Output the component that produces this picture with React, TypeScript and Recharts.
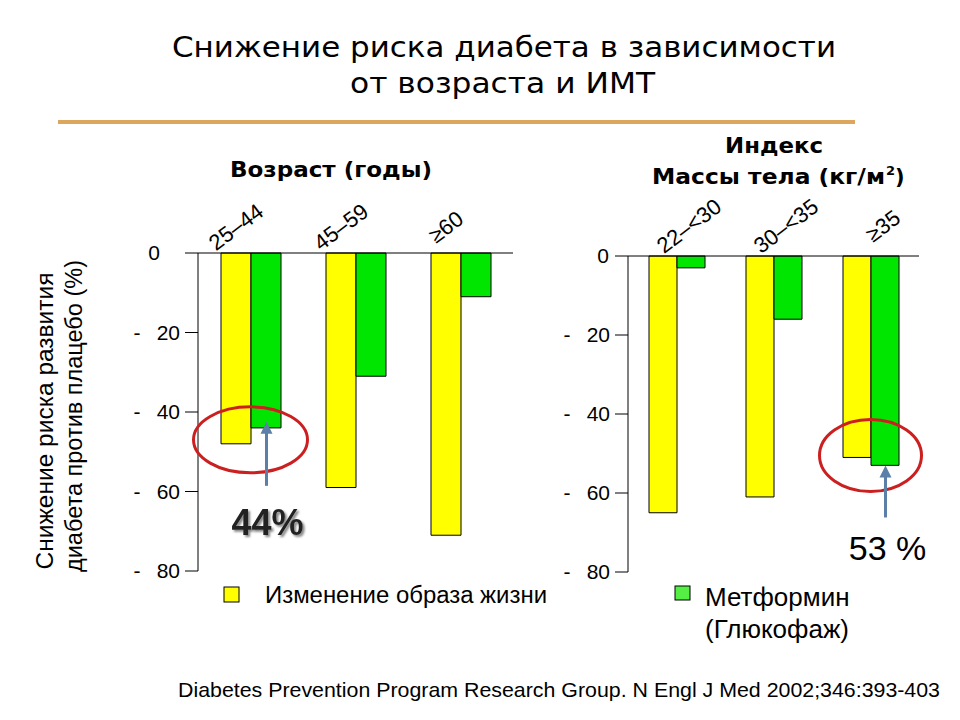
import { BarChart, Bar, XAxis, YAxis, ReferenceDot } from "recharts";

// ─── Data ────────────────────────────────────────────────────────────────────

const AGE_GROUPS = ["25–44", "45–59", "≥60"];
const AGE_LIFESTYLE = [-48, -59, -71];
const AGE_METFORMIN = [-44, -31, -11];

const BMI_GROUPS = ["22–<30", "30–<35", "≥35"];
const BMI_LIFESTYLE = [-65, -61, -51];
const BMI_METFORMIN = [-3, -16, -53];

const Y_TICKS = [0, -20, -40, -60, -80];

const ageData = AGE_GROUPS.map((name, i) => ({
  name,
  lifestyle: AGE_LIFESTYLE[i],
  metformin: AGE_METFORMIN[i],
}));

const bmiData = BMI_GROUPS.map((name, i) => ({
  name,
  lifestyle: BMI_LIFESTYLE[i],
  metformin: BMI_METFORMIN[i],
}));

// ─── Styles ──────────────────────────────────────────────────────────────────

const YELLOW = "#ffff00";
const GREEN = "#00e600";
const LEGEND_GREEN = "#55ee44";
const RED = "#cc2020";
const ARROW = "#5b7fa6";
const ORANGE = "#dca65f";
const ARIAL = "'Liberation Sans', Arial, sans-serif";
const DEJAVU = "'DejaVu Sans', Verdana, sans-serif";

// ─── Ticks ───────────────────────────────────────────────────────────────────

function makeYTick(zeroShift: number) {
  return function YTick(props: any) {
    const { x, y, payload } = props;
    const v = payload.value as number;
    if (v === 0) {
      return (
        <text x={x - 4 + zeroShift} y={y} dy={7} textAnchor="end" fontSize={21} fontFamily={ARIAL} fill="#000">
          0
        </text>
      );
    }
    return (
      <g>
        <text x={x - 46} y={y} dy={7} textAnchor="middle" fontSize={21} fontFamily={ARIAL} fill="#000">
          -
        </text>
        <text x={x - 3} y={y} dy={7} textAnchor="end" fontSize={21} fontFamily={ARIAL} fill="#000">
          {Math.abs(v)}
        </text>
      </g>
    );
  };
}

function makeXTick(dx: number, dy: number) {
  return function XTick(props: any) {
    const { x, y, payload } = props;
    const tx = x + dx;
    const ty = y + dy;
    return (
      <text
        x={tx}
        y={ty}
        textAnchor="middle"
        fontSize={22}
        fontFamily={ARIAL}
        fill="#000"
        transform={`rotate(-37, ${tx}, ${ty})`}
      >
        {payload.value}
      </text>
    );
  };
}

// ─── Annotations ─────────────────────────────────────────────────────────────

function Highlight(props: any) {
  const { cx, cy, rx, ry, ax, a1, a2, label, lx, ly, bold } = props;
  return (
    <g>
      <ellipse cx={cx} cy={cy} rx={rx} ry={ry} fill="none" stroke={RED} strokeWidth={3} />
      <line x1={cx + ax} y1={cy + a1} x2={cx + ax} y2={cy + a2 + 8} stroke={ARROW} strokeWidth={3} />
      <polygon
        points={`${cx + ax},${cy + a2} ${cx + ax - 6},${cy + a2 + 12} ${cx + ax + 6},${cy + a2 + 12}`}
        fill={ARROW}
      />
      <text
        x={cx + lx}
        y={cy + ly}
        textAnchor="middle"
        fontSize={bold ? 36 : 34}
        fontWeight={bold ? "bold" : "normal"}
        fontFamily={ARIAL}
        fill={bold ? "#222" : "#000"}
        filter={bold ? "url(#softShadow)" : undefined}
      >
        {label}
      </text>
    </g>
  );
}

// ─── Chart ───────────────────────────────────────────────────────────────────

function GroupChart({
  data,
  width,
  height,
  yAxisWidth,
  margin,
  barSize,
  zeroShift,
  labelDx,
  labelDy,
  highlight,
}: {
  data: { name: string; lifestyle: number; metformin: number }[];
  width: number;
  height: number;
  yAxisWidth: number;
  margin: { top: number; right: number; bottom: number; left: number };
  barSize: number;
  zeroShift: number;
  labelDx: number;
  labelDy: number;
  highlight: any;
}) {
  return (
    <BarChart width={width} height={height} data={data} margin={margin} barGap={0} barSize={barSize}>
      <defs>
        <filter id="softShadow" x="-20%" y="-20%" width="140%" height="140%">
          <feDropShadow dx={2} dy={2} stdDeviation={1.2} floodColor="#777" floodOpacity={0.9} />
        </filter>
      </defs>
      <XAxis
        dataKey="name"
        orientation="top"
        height={60}
        axisLine={{ stroke: "#000", strokeWidth: 1 }}
        tickLine={false}
        interval={0}
        tick={makeXTick(labelDx, labelDy)}
      />
      <YAxis
        domain={[-80, 0]}
        ticks={Y_TICKS}
        width={yAxisWidth}
        tickSize={13}
        axisLine={{ stroke: "#000", strokeWidth: 1 }}
        tickLine={{ stroke: "#000", strokeWidth: 1 }}
        tick={makeYTick(zeroShift)}
        interval={0}
      />
      <Bar dataKey="lifestyle" fill={YELLOW} stroke="#000" strokeWidth={1} isAnimationActive={false} />
      <Bar dataKey="metformin" fill={GREEN} stroke="#000" strokeWidth={1} isAnimationActive={false} />
      <ReferenceDot
        x={highlight.x}
        y={highlight.y}
        r={0}
        ifOverflow="visible"
        shape={(p: any) => <Highlight {...p} {...highlight.shape} />}
      />
    </BarChart>
  );
}

export default function App() {
  return (
    <div
      style={{
        position: "absolute",
        left: 0,
        top: 0,
        width: 960,
        height: 720,
        background: "#fff",
        overflow: "hidden",
      }}
    >
      <div style={{ position: "absolute", left: 0, top: 130 }}>
        <GroupChart
          data={ageData}
          width={560}
          height={460}
          yAxisWidth={198}
          margin={{ top: 63, right: 47, bottom: 19, left: 0 }}
          barSize={30}
          zeroShift={-19}
          labelDx={-10}
          labelDy={-12}
          highlight={{
            x: "25–44",
            y: -47,
            shape: { rx: 57, ry: 33, ax: 16, a1: 46, a2: -18, label: "44%", lx: 17, ly: 95, bold: true },
          }}
        />
      </div>
      <div style={{ position: "absolute", left: 480, top: 130 }}>
        <GroupChart
          data={bmiData}
          width={480}
          height={460}
          yAxisWidth={148}
          margin={{ top: 66, right: 41, bottom: 18, left: 0 }}
          barSize={28}
          zeroShift={0}
          labelDx={17}
          labelDy={-16}
          highlight={{
            x: "≥35",
            y: -50.5,
            shape: { rx: 51, ry: 36, ax: 15, a1: 62, a2: 10, label: "53 %", lx: 17, ly: 105, bold: false },
          }}
        />
      </div>

      <svg
        width={960}
        height={720}
        style={{ position: "absolute", left: 0, top: 0, pointerEvents: "none" }}
      >
        <g fontFamily={DEJAVU} fill="#000" fontSize={29}>
          <text x={172} y={57} textLength={664} lengthAdjust="spacingAndGlyphs">
            Снижение риска диабета в зависимости
          </text>
          <text x={350} y={93} textLength={305} lengthAdjust="spacingAndGlyphs">
            от возраста и ИМТ
          </text>
        </g>
        <line x1={58} y1={122} x2={855} y2={122} stroke={ORANGE} strokeWidth={4} />

        <g fontFamily={DEJAVU} fontWeight="bold" fill="#000" fontSize={21}>
          <text x={230} y={177} textLength={202} lengthAdjust="spacingAndGlyphs">
            Возраст (годы)
          </text>
          <text x={725} y={153} textLength={98} lengthAdjust="spacingAndGlyphs">
            Индекс
          </text>
          <text x={652} y={184} textLength={233} lengthAdjust="spacingAndGlyphs">
            Массы тела (кг/м
          </text>
          <text x={886} y={175} fontSize={13}>
            2
          </text>
          <text x={895} y={184}>)</text>
        </g>

        <g fontFamily={ARIAL} fontSize={23} fill="#000">
          <text x={53} y={421} textAnchor="middle" transform="rotate(-90, 53, 421)" textLength={297} lengthAdjust="spacingAndGlyphs">
            Снижение риска развития
          </text>
          <text x={82} y={416} textAnchor="middle" transform="rotate(-90, 82, 416)" textLength={312} lengthAdjust="spacingAndGlyphs">
            диабета против плацебо (%)
          </text>
        </g>

        <rect x={224} y={587} width={15} height={15} fill={YELLOW} stroke="#000" strokeWidth={1} />
        <text x={265} y={603} fontFamily={ARIAL} fontSize={23} fill="#000" textLength={282} lengthAdjust="spacingAndGlyphs">
          Изменение образа жизни
        </text>
        <rect x={675} y={586} width={15} height={14} fill={LEGEND_GREEN} stroke="#000" strokeWidth={1} />
        <g fontFamily={ARIAL} fontSize={26} fill="#000">
          <text x={705} y={606}>Метформин</text>
          <text x={705} y={638}>(Глюкофаж)</text>
        </g>

        <text x={178} y={697} fontFamily={ARIAL} fontSize={21} fill="#000" textLength={762} lengthAdjust="spacingAndGlyphs">
          Diabetes Prevention Program Research Group. N Engl J Med 2002;346:393-403
        </text>
      </svg>
    </div>
  );
}
